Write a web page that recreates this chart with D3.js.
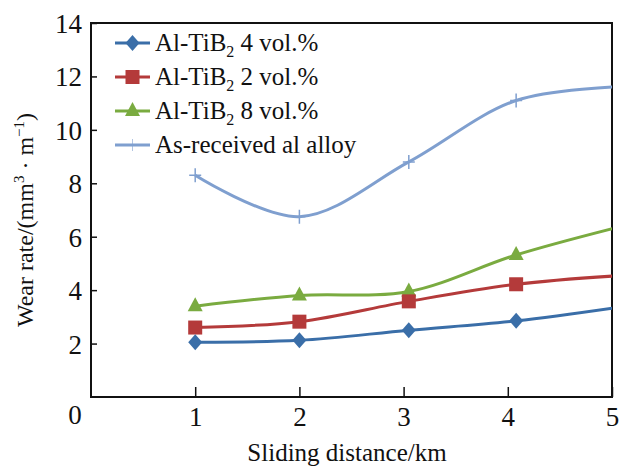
<!DOCTYPE html>
<html><head><meta charset="utf-8">
<script src="https://cdn.jsdelivr.net/npm/d3@7"></script>
<style>body{margin:0;background:#fff}svg{display:block}text{font-family:"Liberation Serif","Times New Roman",serif;fill:#111}</style>
</head><body><svg id="c" width="623" height="468"></svg>
<script>
const xValues = [1, 2, 3.05, 4.08, 5.1];
const s4 = [2.05, 2.12, 2.5, 2.85, 3.38];
const s2 = [2.6, 2.82, 3.58, 4.22, 4.55];
const s8 = [3.4, 3.8, 3.95, 5.32, 6.4];
const sAs = [8.3, 6.75, 8.8, 11.1, 11.62];
const seriesNames = ["Al-TiB|2| 4 vol.%", "Al-TiB|2| 2 vol.%", "Al-TiB|2| 8 vol.%", "As-received al alloy"];
const seriesColors = ["#3a6ea8", "#b43a3a", "#7aab40", "#7f9fcf"];
const seriesMarkers = ["diamond", "square", "triangle", "plus"];
const xTicks = [1, 2, 3, 4, 5];
const yTicks = [2, 4, 6, 8, 10, 12, 14];

const FONT = '"Liberation Serif","Times New Roman",serif';
const svg = d3.select("#c");
const L = 91, R = 612, T = 23, B = 397;
const x = d3.scaleLinear().domain([0, 5]).range([L, R]);
const y = d3.scaleLinear().domain([0, 14]).range([B, T]);

svg.append("defs").append("clipPath").attr("id", "clip")
  .append("rect").attr("x", L).attr("y", T).attr("width", R - L).attr("height", B - T);

// axes
const xa = svg.append("g").attr("transform", `translate(0,${B})`)
  .call(d3.axisBottom(x).tickValues(xTicks).tickSize(-10).tickPadding(9).tickFormat(d3.format("d")));
const ya = svg.append("g").attr("transform", `translate(${L},0)`)
  .call(d3.axisLeft(y).tickValues(yTicks).tickSize(-6).tickPadding(9).tickFormat(d3.format("d")));
[xa, ya].forEach(g => {
  g.select(".domain").remove();
  g.selectAll("line").attr("stroke", "#111").attr("stroke-width", 1.5);
  g.selectAll("text").attr("font-size", 27).attr("font-family", FONT).attr("fill", "#111");
});
xa.selectAll("text").attr("dy", "0.75em");
ya.selectAll("text").attr("dy", "0.35em");
svg.append("text").attr("x", 75).attr("y", 424).attr("text-anchor", "middle").attr("font-size", 27).text("0");

svg.append("rect").attr("x", L).attr("y", T).attr("width", R - L).attr("height", B - T)
  .attr("fill", "none").attr("stroke", "#111").attr("stroke-width", 2);

// series
const allSeries = [s4, s2, s8, sAs];
const line = d3.line().x((d, i) => x(xValues[i])).y(d => y(d)).curve(d3.curveCatmullRom.alpha(0.5));
const plot = svg.append("g").attr("clip-path", "url(#clip)");
function marker(g, type, color, cx, cy) {
  if (type === "diamond") g.append("path").attr("d", `M${cx},${cy-8}L${cx+7},${cy}L${cx},${cy+8}L${cx-7},${cy}Z`).attr("fill", color);
  else if (type === "square") g.append("rect").attr("x", cx-7).attr("y", cy-7).attr("width", 14).attr("height", 14).attr("fill", color);
  else if (type === "triangle") g.append("path").attr("d", `M${cx},${cy-9}L${cx+7.5},${cy+5}L${cx-7.5},${cy+5}Z`).attr("fill", color);
  else g.append("path").attr("d", `M${cx-6},${cy}H${cx+6}M${cx},${cy-7}V${cy+7}`).attr("stroke", color).attr("stroke-width", 1.5);
}
[3, 2, 1, 0].forEach(k => {
  const vals = allSeries[k];
  plot.append("path").attr("d", line(vals)).attr("fill", "none")
    .attr("stroke", seriesColors[k]).attr("stroke-width", 3);
  vals.forEach((v, i) => marker(plot, seriesMarkers[k], seriesColors[k], x(xValues[i]), y(v)));
});

// legend
const lg = svg.append("g");
seriesNames.forEach((name, k) => {
  const yy = 43 + k * 34;
  lg.append("line").attr("x1", 115).attr("x2", 150).attr("y1", yy).attr("y2", yy)
    .attr("stroke", seriesColors[k]).attr("stroke-width", 3);
  if (k < 3) marker(lg, seriesMarkers[k], seriesColors[k], 132.5, yy);
  else lg.append("path").attr("d", `M132.5,${yy-6}V${yy+6}`).attr("stroke", seriesColors[k]).attr("stroke-width", 1).attr("opacity", 0.6);
  const t = lg.append("text").attr("x", 155).attr("y", yy + 8).attr("font-size", 25);
  const parts = name.split("|");
  t.append("tspan").text(parts[0]);
  if (parts.length > 1) {
    t.append("tspan").attr("font-size", 16).attr("dy", 6).text(parts[1]);
    t.append("tspan").attr("dy", -6).text(parts[2]);
  }
});

// axis titles
svg.append("text").attr("x", 347).attr("y", 461).attr("text-anchor", "middle").attr("font-size", 25).text("Sliding distance/km");
const yt = svg.append("text").attr("transform", "translate(33,220) rotate(-90)").attr("text-anchor", "middle").attr("font-size", 24);
yt.append("tspan").text("Wear rate/(mm");
yt.append("tspan").attr("font-size", 15).attr("dy", -9).text("3");
yt.append("tspan").attr("dy", 9).text(" · m");
yt.append("tspan").attr("font-size", 15).attr("dy", -9).text("−1");
yt.append("tspan").attr("dy", 9).text(")");
</script></body></html>
